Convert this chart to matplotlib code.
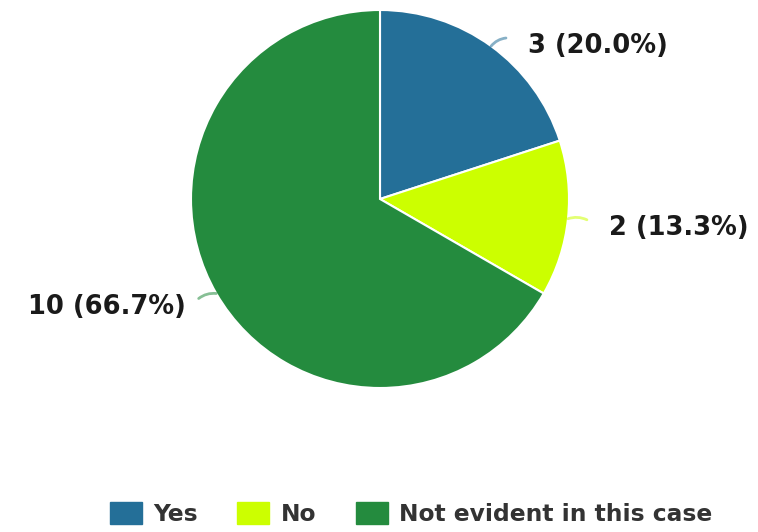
import numpy as np
import matplotlib.pyplot as plt

categories = ["Yes", "No", "Not evident in this case"]
counts = [3, 2, 10]
colors = ["#246f98", "#ccff00", "#248b3e"]

W, H = 758, 532
cx, cy, r = 380, 199, 189

fig = plt.figure(figsize=(W / 100, H / 100), dpi=100)
ax = fig.add_axes([(cx - r) / W, (H - cy - r) / H, 2 * r / W, 2 * r / H])

wedges, _ = ax.pie(counts, colors=colors, startangle=90, counterclock=False,
                   radius=1.0, wedgeprops=dict(edgecolor="white", linewidth=1.5))
ax.set_aspect("equal")
ax.set_xlim(-1, 1)
ax.set_ylim(-1, 1)

total = sum(counts)
for w, n, c in zip(wedges, counts, colors):
    ang = np.deg2rad((w.theta1 + w.theta2) / 2)
    x, y = np.cos(ang), np.sin(ang)
    side = 1 if x >= 0 else -1
    # short leader: a bit outwards along the radius, then sideways
    ex = x * 10 + side * 9
    ey = y * 10
    ax.annotate("", xy=(x, y), xytext=(ex, ey), textcoords="offset pixels",
                annotation_clip=False,
                arrowprops=dict(arrowstyle="-", color=c, alpha=0.55, lw=2,
                                connectionstyle="arc3,rad=0.2" if side > 0 else "arc3,rad=-0.2",
                                shrinkA=0, shrinkB=0))
    label = f"{n} ({n / total * 100:.1f}%)"
    gap = 22 if side > 0 else 13
    ax.annotate(label, xy=(x, y), xytext=(ex + side * gap, ey - 8),
                textcoords="offset pixels", annotation_clip=False,
                ha="left" if side > 0 else "right", va="center",
                fontsize=18.5, fontweight="bold", color="#1a1a1a")

handles = [plt.Rectangle((0, 0), 1, 1, color=c) for c in colors]
fig.legend(handles, categories, loc="center", bbox_to_anchor=(411 / W, 18 / H),
           ncol=3, frameon=False, handlelength=1.37, handleheight=1.03,
           handletextpad=0.47, columnspacing=1.7,
           prop=dict(size=16.8, weight="bold"), labelcolor="#333333")

fig.savefig("out.png", dpi=100)
